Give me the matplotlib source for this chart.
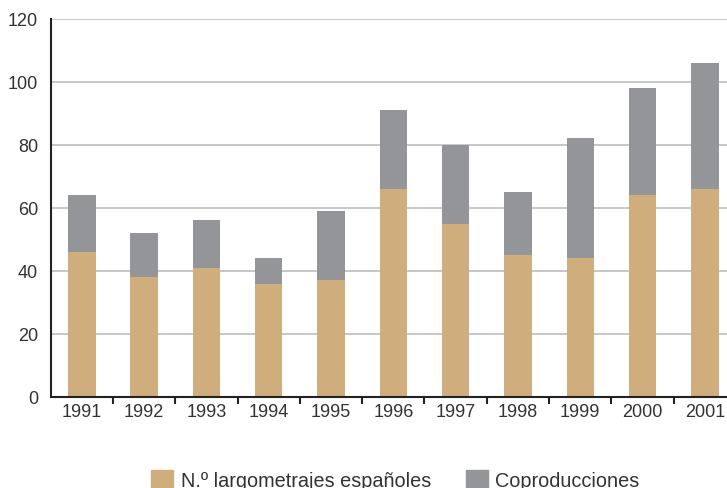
import matplotlib
matplotlib.use('Agg')
from matplotlib import pyplot as plt
from matplotlib.patches import Patch
import numpy as np

plt.rcParams['font.family'] = ['Liberation Sans', 'DejaVu Sans']

years = ['1991', '1992', '1993', '1994', '1995', '1996', '1997', '1998', '1999', '2000', '2001']
espanoles = [46, 38, 41, 36, 37, 66, 55, 45, 44, 64, 66]
coproducciones = [18, 14, 15, 8, 22, 25, 25, 20, 38, 34, 40]

col_esp = '#cfad7d'
col_cop = '#939598'
txt = '#333333'

fig = plt.figure(figsize=(7.27, 4.89), dpi=100)
ax = fig.add_axes([50.7 / 727, 91 / 489, (736 - 50.7) / 727, (398 - 19.7) / 489])

x = np.arange(len(years))
ax.bar(x, espanoles, width=0.44, color=col_esp, zorder=2)
ax.bar(x, coproducciones, width=0.44, bottom=espanoles, color=col_cop, zorder=2)

ax.set_xlim(-0.5, len(years) - 0.5)
ax.set_ylim(0, 120)
ax.set_yticks(range(0, 121, 20))
for v in range(20, 121, 20):
    ax.axhline(v, color='#bdbdbd', lw=1.2, zorder=1)

# ticks between categories, labels centred under bars
ax.set_xticks(x + 0.5, minor=False)
ax.set_xticklabels([])
ax.set_xticks(x, minor=True)
ax.set_xticklabels(years, minor=True)
ax.tick_params(axis='x', which='major', direction='out', length=5, width=1.5, color='#222222')
ax.tick_params(axis='x', which='minor', length=0, labelsize=13, labelcolor=txt, pad=4)
ax.tick_params(axis='y', length=0, labelsize=13, labelcolor=txt, pad=9)

for s in ['top', 'right']:
    ax.spines[s].set_visible(False)
ax.spines['left'].set_color('#222222')
ax.spines['left'].set_linewidth(1.5)
ax.spines['bottom'].set_color('#222222')
ax.spines['bottom'].set_linewidth(1.5)

handles = [Patch(color=col_esp, label='N.º largometrajes españoles'),
           Patch(color=col_cop, label='Coproducciones')]
fig.legend(handles=handles, loc='center left', bbox_to_anchor=(133 / 727, 8 / 489),
           ncol=2, frameon=False, fontsize=14.3, labelcolor=txt,
           handlelength=1.1, handleheight=1.1, handletextpad=0.4, columnspacing=1.75)

fig.savefig('out.png', dpi=100)
